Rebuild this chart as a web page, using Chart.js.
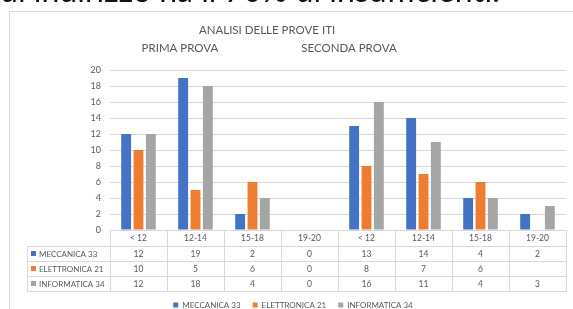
<!DOCTYPE html>
<html>
<head>
<meta charset="utf-8">
<script src="https://cdn.jsdelivr.net/npm/chart.js@4/dist/chart.umd.min.js"></script>
<style>
  html, body { margin: 0; padding: 0; background: #fff; width: 573px; height: 309px; overflow: hidden; }
  #topText { position: absolute; z-index: 5; left: 0; top: -26px; font-family: Lato, sans-serif; font-size: 32px; line-height: 32px; color: #111; white-space: nowrap; }
  #frame { position: absolute; left: 9px; top: 11px; width: 620px; height: 330px; border: 1px solid #d9d9d9; box-sizing: border-box; }
  #wrap { position: absolute; left: 0; top: 0; width: 573px; height: 309px; }
</style>
</head>
<body>
<div id="frame"></div>
<div id="wrap"><canvas id="c"></canvas></div>
<div id="topText">di indirizzo ha il 70% di insufficienti.</div>
<script>
const categories = ["< 12", "12-14", "15-18", "19-20", "< 12", "12-14", "15-18", "19-20"];
const seriesNames = ["MECCANICA 33", "ELETTRONICA 21", "INFORMATICA 34"];
const meccanica = [12, 19, 2, 0, 13, 14, 4, 2];
const elettronica = [10, 5, 6, 0, 8, 7, 6, null];
const informatica = [12, 18, 4, 0, 16, 11, 4, 3];
const seriesColors = ["#4472C4", "#ED7D31", "#A5A5A5"];
const chartTitle = "ANALISI DELLE PROVE ITI";
const groupTitles = ["PRIMA PROVA", "SECONDA PROVA"];

const FONT = "Lato, 'Open Sans', sans-serif";
const TXT = "#595959";
const LINE = "#d9d9d9";

const tablePlugin = {
  id: "tablePlugin",
  afterDraw(chart) {
    const ctx = chart.ctx;
    const xs = chart.scales.x;
    const area = chart.chartArea;
    const n = categories.length;
    const left = xs.left, right = xs.right;
    const cw = (right - left) / n;
    const top = area.bottom;
    const headH = 16, rowH = 15;
    const tableLeft = 27;
    const series = [meccanica, elettronica, informatica];
    ctx.save();
    ctx.strokeStyle = LINE;
    ctx.lineWidth = 1;
    ctx.beginPath();
    ctx.moveTo(left, Math.round(top) + 0.5); ctx.lineTo(right + 1, Math.round(top) + 0.5);
    for (let r = 0; r <= 3; r++) {
      const y = Math.round(top + headH + r * rowH) + 0.5;
      ctx.moveTo(tableLeft, y); ctx.lineTo(right + 1, y);
    }
    const bottom = top + headH + 3 * rowH;
    for (let i = 0; i <= n; i++) {
      const x = Math.round(left + i * cw) + 0.5;
      ctx.moveTo(x, top); ctx.lineTo(x, bottom + 0.5);
    }
    ctx.moveTo(tableLeft + 0.5, top + headH); ctx.lineTo(tableLeft + 0.5, bottom + 0.5);
    ctx.stroke();

    ctx.font = "8.5px " + FONT;
    ctx.fillStyle = TXT;
    ctx.textAlign = "center";
    ctx.textBaseline = "middle";
    for (let i = 0; i < n; i++) {
      const cx = xs.getPixelForValue(i);
      ctx.fillText(categories[i], cx, top + headH / 2 + 0.5);
      for (let s = 0; s < 3; s++) {
        const v = series[s][i];
        if (v !== null && v !== undefined) {
          ctx.fillText(String(v), cx, top + headH + s * rowH + rowH / 2 + 0.5);
        }
      }
    }
    ctx.textAlign = "left";
    ctx.font = "8px " + FONT;
    for (let s = 0; s < 3; s++) {
      const cy = top + headH + s * rowH + rowH / 2;
      ctx.fillStyle = seriesColors[s];
      ctx.fillRect(tableLeft + 4, Math.round(cy - 2.5), 5, 5);
      ctx.fillStyle = TXT;
      ctx.fillText(seriesNames[s], tableLeft + 12, cy + 0.5);
    }
    ctx.textAlign = "center";
    ctx.font = "11.5px " + FONT;
    ctx.fillText(chartTitle, chart.width * 0.466, 30);
    ctx.fillText(groupTitles[0], chart.width * 0.314, 48);
    ctx.fillText(groupTitles[1], chart.width * 0.609, 48);
    ctx.restore();
  }
};

const legendPad = 12;

new Chart(document.getElementById("c"), {
  type: "bar",
  data: {
    labels: categories,
    datasets: [
      { label: seriesNames[0], data: meccanica, backgroundColor: seriesColors[0] },
      { label: seriesNames[1], data: elettronica, backgroundColor: seriesColors[1] },
      { label: seriesNames[2], data: informatica, backgroundColor: seriesColors[2] }
    ]
  },
  options: {
    responsive: true,
    maintainAspectRatio: false,
    animation: false,
    devicePixelRatio: 1,
    datasets: { bar: { categoryPercentage: 0.65, barPercentage: 0.8 } },
    layout: { padding: { left: 20, right: 7, top: 70, bottom: -10 } },
    plugins: {
      tooltip: { enabled: false },
      title: { display: false },
      legend: {
        position: "bottom",
        labels: { boxWidth: 5, boxHeight: 5, padding: legendPad, color: TXT, font: { family: FONT, size: 8 } }
      }
    },
    scales: {
      x: {
        grid: { display: false },
        border: { display: false },
        ticks: { display: false },
        afterFit(scale) { scale.height = 71 - legendPad; }
      },
      y: {
        min: 0, max: 20,
        ticks: { stepSize: 2, color: TXT, font: { family: FONT, size: 9 }, padding: 9 },
        grid: { color: LINE, drawTicks: false },
        border: { display: false },
        afterFit(scale) { scale.width = 90; }
      }
    }
  },
  plugins: [tablePlugin]
});
</script>
</body>
</html>
